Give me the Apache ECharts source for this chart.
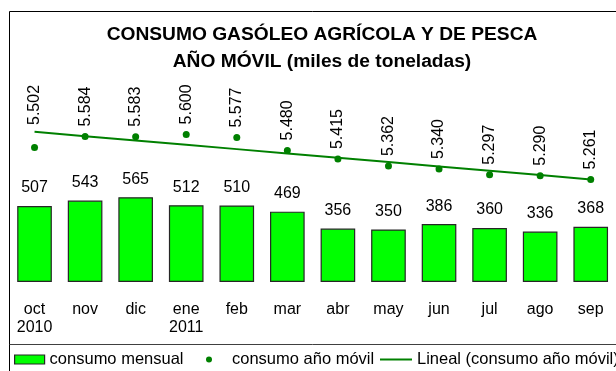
<!DOCTYPE html>
<html>
<head>
<meta charset="utf-8">
<script src="https://cdn.jsdelivr.net/npm/echarts@6/dist/echarts.min.js"></script>
<style>
  html, body { margin: 0; padding: 0; background: #fff; }
  #chart { width: 616px; height: 371px; }
</style>
</head>
<body>
<div id="chart"></div>
<script>
// Month labels (second line marks the year change)
const categories = ['oct\n2010', 'nov', 'dic', 'ene\n2011', 'feb', 'mar', 'abr', 'may', 'jun', 'jul', 'ago', 'sep'];
// Monthly consumption (thousand tonnes)
const consumoMensual = [507, 543, 565, 512, 510, 469, 356, 350, 386, 360, 336, 368];
// Rolling 12-month consumption (thousand tonnes)
const consumoAnoMovil = [5502, 5584, 5583, 5600, 5577, 5480, 5415, 5362, 5340, 5297, 5290, 5261];

const FONT = '"Liberation Sans", Arial, sans-serif';
const DARK_GREEN = '#008000';

// Least-squares linear trend of the rolling series
function linearTrend(values) {
  const n = values.length;
  let sx = 0, sy = 0, sxx = 0, sxy = 0;
  values.forEach((y, i) => { const x = i + 1; sx += x; sy += y; sxx += x * x; sxy += x * y; });
  const slope = (n * sxy - sx * sy) / (n * sxx - sx * sx);
  const intercept = (sy - slope * sx) / n;
  return values.map((_, i) => slope * (i + 1) + intercept);
}

// Spanish thousands separator
const fmtThousands = v => String(Math.round(v)).replace(/\B(?=(\d{3})+(?!\d))/g, '.');

const chart = echarts.init(document.getElementById('chart'), null, { renderer: 'canvas' });

// first label sits a little higher above its point
const rollingData = consumoAnoMovil.map((v, i) => (
  i === 0 ? { value: v, label: { distance: 19 } } : v
));

const legendText = { fontFamily: FONT, fontSize: 16.5, color: '#000' };

chart.setOption({
  backgroundColor: '#ffffff',
  animation: false,
  textStyle: { fontFamily: FONT },
  title: {
    text: 'CONSUMO GASÓLEO AGRÍCOLA Y DE PESCA\nAÑO MÓVIL (miles de toneladas)',
    left: 322,
    top: 21,
    textAlign: 'center',
    padding: 0,
    textStyle: { fontFamily: FONT, fontSize: 19.2, fontWeight: 'bold', color: '#000', lineHeight: 27 }
  },
  legend: [
    {
      data: [{ name: 'consumo mensual', icon: 'rect' }],
      left: 14, top: 351, padding: 0,
      itemWidth: 30, itemHeight: 9,
      itemStyle: { borderColor: '#262626', borderWidth: 1.2 },
      textStyle: legendText
    },
    {
      data: [{ name: 'consumo año móvil', icon: 'circle' }],
      left: 206, top: 351, padding: 0,
      itemWidth: 6, itemHeight: 6,
      textStyle: Object.assign({ padding: [0, 0, 0, 15] }, legendText)
    },
    {
      data: [{ name: 'Lineal (consumo año móvil)', icon: 'rect' }],
      left: 380, top: 351, padding: 0,
      itemWidth: 32, itemHeight: 2,
      textStyle: legendText
    }
  ],
  grid: { left: 9.25, right: -11.25, top: 72, bottom: 89, containLabel: false },
  xAxis: {
    type: 'category',
    data: categories,
    boundaryGap: true,
    axisLine: { show: false },
    axisTick: { show: false },
    axisLabel: {
      interval: 0,
      margin: 19,
      fontFamily: FONT,
      fontSize: 16,
      lineHeight: 18,
      color: '#000'
    }
  },
  yAxis: [
    { type: 'value', min: 0, max: 1400, show: false, splitLine: { show: false } },
    { type: 'value', min: 4490, max: 6070, show: false, splitLine: { show: false } }
  ],
  series: [
    {
      name: 'consumo mensual',
      type: 'bar',
      yAxisIndex: 0,
      data: consumoMensual,
      barCategoryGap: '31.5%',
      itemStyle: { color: '#00ff00', borderColor: '#262626', borderWidth: 1.2 },
      label: {
        show: true,
        position: 'top',
        distance: 10,
        fontFamily: FONT,
        fontSize: 16,
        color: '#000'
      }
    },
    {
      name: 'Lineal (consumo año móvil)',
      type: 'line',
      yAxisIndex: 1,
      data: linearTrend(consumoAnoMovil),
      symbol: 'none',
      lineStyle: { color: DARK_GREEN, width: 2 },
      itemStyle: { color: DARK_GREEN },
      z: 3
    },
    {
      name: 'consumo año móvil',
      type: 'scatter',
      yAxisIndex: 1,
      data: rollingData,
      symbol: 'circle',
      symbolSize: 7,
      itemStyle: { color: DARK_GREEN, opacity: 1 },
      z: 4,
      label: {
        show: true,
        position: 'top',
        distance: 6.5,
        rotate: 90,
        align: 'left',
        verticalAlign: 'middle',
        fontFamily: FONT,
        fontSize: 16,
        color: '#000',
        formatter: p => fmtThousands(p.value)
      }
    }
  ],
  graphic: [
    // outer chart frame (top and left edges visible)
    { type: 'line', silent: true, shape: { x1: 9.5, y1: 11.5, x2: 616, y2: 11.5 }, style: { stroke: '#000', lineWidth: 1 } },
    { type: 'line', silent: true, shape: { x1: 9.5, y1: 11.5, x2: 9.5, y2: 371 }, style: { stroke: '#000', lineWidth: 1 } },
    // legend box top edge
    { type: 'line', silent: true, shape: { x1: 9.5, y1: 344.5, x2: 616, y2: 344.5 }, style: { stroke: '#404040', lineWidth: 1 } }
  ]
});
</script>
</body>
</html>
